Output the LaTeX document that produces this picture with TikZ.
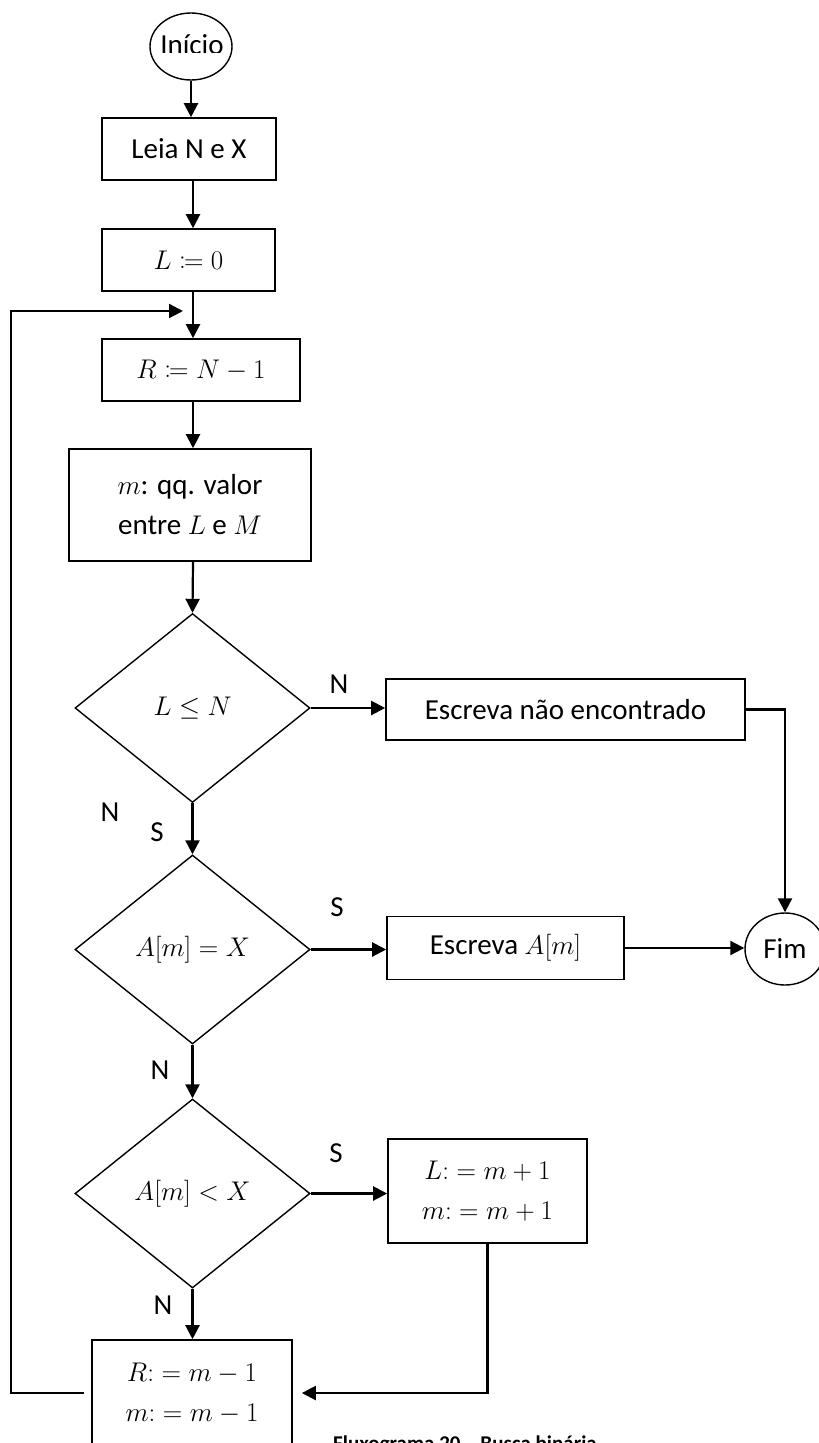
\RequirePackage{fix-cm}
\documentclass[tikz,border=0pt]{standalone}
\usepackage{mathtools}
\usepackage{fontspec}
\setmainfont{Carlito}
\usetikzlibrary{arrows.meta,shapes.geometric}
% text at 29pt, formulas slightly smaller
\DeclareMathSizes{29}{27}{19}{14}

\begin{document}
\begin{tikzpicture}[x=1pt,y=-1pt,
  every node/.style={font=\fontsize{29}{40}\selectfont},
  box/.style={draw, line width=1.6pt, rectangle, inner sep=0pt, align=center},
  cond/.style={draw, line width=1.4pt, diamond, inner sep=0pt,
               minimum width=235pt, minimum height=189pt},
  term/.style={draw, line width=1.4pt, ellipse, inner sep=0pt},
  flow/.style={line width=2.2pt, -{Triangle[length=14pt,width=14pt]}},
  lbl/.style={inner sep=0pt}]

\useasboundingbox (0,0) rectangle (819,1443);
\clip (0,0) rectangle (819,1443);

% terminals
\node[term, minimum width=82pt, minimum height=67pt] (ini) at (191,46.5) {};
\begin{scope}
  \clip (150,20) rectangle (232,52.5);
  \node[lbl, anchor=base] (initxt) at (192,54) {Início};
\end{scope}
\node[term, minimum width=80pt, minimum height=72pt] (fim) at (785,949) {Fim};

% process boxes
\node[box, minimum width=174pt, minimum height=62pt] (leia) at (189,149) {Leia N e X};
\node[box, minimum width=173pt, minimum height=62pt] (l0) at (188.5,260) {$L \coloneqq 0$};
\node[box, minimum width=198pt, minimum height=62pt] (r0) at (201,370) {$R \coloneqq N - 1$};
\node[box, minimum width=242pt, minimum height=112pt] (mid) at (190,505)
  {$m$: qq. valor\\entre $L$ e $M$};
\node[box, minimum width=359pt, minimum height=61pt] (enc) at (565.5,709.5) {Escreva não encontrado};
\node[box, minimum width=237pt, minimum height=63pt] (am) at (505.5,948) {Escreva $A[m]$};
\node[box, minimum width=199pt, minimum height=104pt] (lp1) at (487.5,1191)
  {$L{:}= m + 1$\\$m{:}= m + 1$};
\node[box, minimum width=200pt, minimum height=106pt] (rm1) at (192,1393)
  {$R{:}= m - 1$\\$m{:}= m - 1$};

% decisions
\node[cond] (c1) at (192.5,708) {$L \leq N$};
\node[cond] (c2) at (192.5,949.5) {$A[m] = X$};
\node[cond] (c3) at (192.5,1193.5) {$A[m] < X$};

% branch labels
\node[lbl] (n1) at (339,684) {N};
\node[lbl] (n2) at (110,812) {N};
\node[lbl] (s1) at (157,832) {S};
\node[lbl] (s2) at (337,907) {S};
\node[lbl] (n3) at (160,1070) {N};
\node[lbl] (s3) at (336,1153) {S};
\node[lbl] (n4) at (163,1305) {N};

% caption, running off the lower edge
\node[lbl, font=\fontsize{21}{25}\selectfont\bfseries, anchor=base west] (cap)
  at (333,1450.5) {Fluxograma 20 – Busca binária};

% connectors
\coordinate (spine) at (193,0);
\coordinate (loopx) at (11,1393);
\coordinate (loopin) at (183,311);

\draw[flow] (ini.south) -- (ini.south |- leia.north);
\draw[flow] (leia.south -| spine) -- (l0.north -| spine);
\draw[flow] (l0.south -| spine) -- (r0.north -| spine);
\draw[flow] (r0.south -| spine) -- (mid.north -| spine);
\draw[flow] (mid.south -| spine) -- (c1.north);
\draw[flow] (c1.east) -- (c1.east -| enc.west);
\draw[flow] (enc.east) -| (fim.north);
\draw[flow] (c1.south) -- (c2.north);
\draw[flow] (c2.east) -- (c2.east -| am.west);
\draw[flow] (am.east) -- (am.east -| fim.west);
\draw[flow] (c2.south) -- (c3.north);
\draw[flow] (c3.east) -- (c3.east -| lp1.west);
\draw[flow] (c3.south) -- (c3.south |- rm1.north);
\draw[flow, shorten >=9pt] (lp1.south) |- (rm1.east);
\draw[flow, shorten <=7pt] (rm1.west) -- (loopx) |- (loopin);

\end{tikzpicture}
\end{document}
